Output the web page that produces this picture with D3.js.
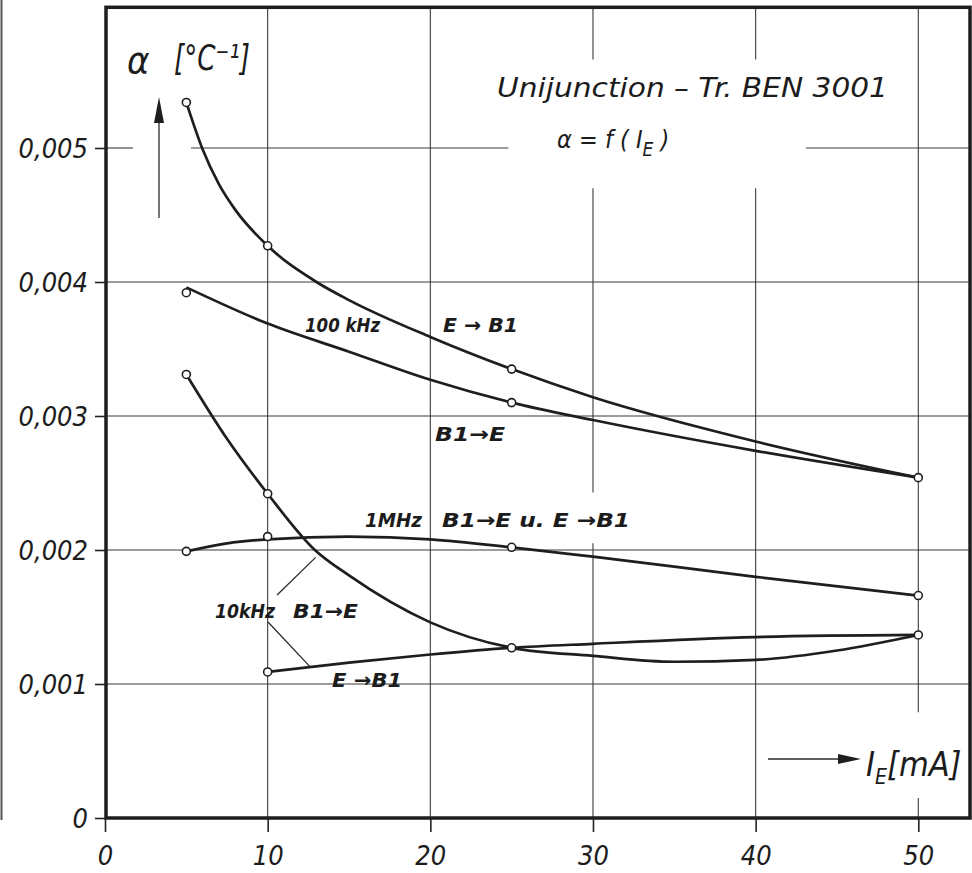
<!DOCTYPE html>
<html>
<head>
<meta charset="utf-8">
<script src="https://cdn.jsdelivr.net/npm/d3@7"></script>
<style>
  body { margin: 0; background: #fff; }
  text { font-family: "DejaVu Sans Condensed", "DejaVu Sans", sans-serif; font-style: italic; fill: #1c1c1c; }
</style>
</head>
<body>
<script>
// axis ticks
var xTicks = [0, 10, 20, 30, 40, 50];
var yTicks = [0, 0.001, 0.002, 0.003, 0.004, 0.005];

// curves  [I_E mA, alpha 1/°C]
var e2b1_100k = [[5, 0.00534], [6, 0.00499], [7, 0.00473], [8, 0.00454], [10, 0.00427], [13, 0.00400], [15, 0.003865], [20, 0.00359], [25, 0.00335], [30, 0.00314], [40, 0.00281], [50, 0.00254]];
var b1e_100k  = [[5, 0.00396], [10, 0.00369], [15, 0.00348], [20, 0.00327], [25, 0.00310], [30, 0.00297], [40, 0.00274], [50, 0.00254]];
var b1e_10k   = [[5, 0.00331], [7.5, 0.00283], [10, 0.00242], [12.9, 0.00200], [15, 0.00181], [20, 0.00146], [25, 0.00127], [30, 0.00121], [35, 0.001166], [40, 0.00118], [45, 0.00125], [50, 0.001366]];
var e2b1_10k  = [[10, 0.00109], [15, 0.00116], [20, 0.00122], [25, 0.00127], [30, 0.00130], [40, 0.00135], [50, 0.001366]];
var both_1mhz = [[5, 0.00199], [7.5, 0.00205], [10, 0.00208], [15, 0.00210], [20, 0.00208], [25, 0.00202], [30, 0.00195], [40, 0.00180], [50, 0.00166]];

// measured points (the little circles)
var pts_e2b1_100k = [[5, 0.00534], [10, 0.00427], [25, 0.00335], [50, 0.00254]];
var pts_b1e_100k  = [[5, 0.00392], [25, 0.00310]];
var pts_b1e_10k   = [[5, 0.00331], [10, 0.00242], [25, 0.00127], [50, 0.001366]];
var pts_e2b1_10k  = [[10, 0.00109]];
var pts_1mhz      = [[5, 0.00199], [10, 0.00210], [25, 0.00202], [50, 0.00166]];

var curves = [e2b1_100k, b1e_100k, b1e_10k, e2b1_10k, both_1mhz];
var points = [].concat(pts_e2b1_100k, pts_b1e_100k, pts_b1e_10k, pts_e2b1_10k, pts_1mhz);

// curve labels, anchored in data units
var labels = [
  {t: '100 kHz', x: 12.3, y: 0.003627, w: 75},
  {t: 'E \u2192 B1', x: 20.78, y: 0.003627, w: 75},
  {t: 'B1\u2192E', x: 20.29, y: 0.002813, w: 70},
  {t: '1MHz', x: 15.98, y: 0.002172, w: 57},
  {t: 'B1\u2192E  u.  E \u2192B1', x: 20.72, y: 0.002172, w: 188},
  {t: '10kHz', x: 6.76, y: 0.001493, w: 60},
  {t: 'B1\u2192E', x: 11.56, y: 0.001493, w: 65},
  {t: 'E \u2192B1', x: 13.96, y: 0.000978, w: 70}
];
var leaders = [
  [[10.58, 0.001664], [12.95, 0.001945]],
  [[10.02, 0.001463], [12.6, 0.00113]]
];

// where the grid is left open for lettering
var hGaps = {'0.005': [[1.72, 5.29], [24.8, 43.1]]};
var vGaps = {'30': [[0.00205, 0.00243], [0.0047, 0.00566]], '40': [[0.0047, 0.00566]], '50': [[0.00015, 0.00079]]};

var W = 972, H = 873;
var xMax = 53.18, yMax = 0.00605;

var svg = d3.select('body').append('svg')
  .attr('width', W).attr('height', H)
  .style('background-color', '#fff');

var x = d3.scaleLinear().domain([0, 50]).range([105, 918.3]);
var y = d3.scaleLinear().domain([0, 0.005]).range([818, 148]);

// scan edge on the far left
svg.append('line').attr('x1', 1.5).attr('x2', 1.5).attr('y1', 0).attr('y2', 820)
  .attr('stroke', '#555').attr('stroke-width', 2);

var segs = function(lo, hi, gaps) {
  var out = [], s = lo;
  (gaps || []).forEach(function(g) { out.push([s, g[0]]); s = g[1]; });
  out.push([s, hi]);
  return out;
};

var grid = svg.append('g').attr('stroke', '#3a3a3a').attr('stroke-width', 1.1);
yTicks.slice(1).forEach(function(v) {
  segs(0, xMax, hGaps[String(v)]).forEach(function(s) {
    grid.append('line').attr('x1', x(s[0])).attr('x2', x(s[1])).attr('y1', y(v)).attr('y2', y(v));
  });
});
xTicks.slice(1).forEach(function(v) {
  segs(0, yMax, vGaps[String(v)]).forEach(function(s) {
    grid.append('line').attr('x1', x(v)).attr('x2', x(v)).attr('y1', y(s[0])).attr('y2', y(s[1]));
  });
});

// axes: ticks + numbers
var fmt = function(d) { return d === 0 ? '0' : d3.format('.3f')(d).replace('.', ','); };
var xAxis = svg.append('g').attr('transform', 'translate(0,' + y(0) + ')')
  .call(d3.axisBottom(x).tickValues(xTicks).tickSizeInner(14).tickSizeOuter(0).tickPadding(14));
var yAxis = svg.append('g').attr('transform', 'translate(' + x(0) + ',0)')
  .call(d3.axisLeft(y).tickValues(yTicks).tickFormat(fmt).tickSizeInner(10).tickSizeOuter(0).tickPadding(7));
[xAxis, yAxis].forEach(function(a) {
  a.select('.domain').remove();
  a.selectAll('line').attr('stroke', '#222').attr('stroke-width', 1.6);
  a.selectAll('text').attr('font-size', 27).attr('fill', '#1c1c1c')
    .style('font-family', '"DejaVu Sans Condensed", "DejaVu Sans", sans-serif').style('font-style', 'italic');
});
xAxis.selectAll('text').attr('dy', '0.71em');
yAxis.selectAll('text').attr('dy', '0.36em');

// frame
svg.append('rect').attr('x', x(0) + 1).attr('y', y(yMax)).attr('width', x(xMax) - x(0) - 1).attr('height', y(0) - y(yMax))
  .attr('fill', 'none').attr('stroke', '#1e1e1e').attr('stroke-width', 3.5);

// curves
var line = d3.line().x(function(d) { return x(d[0]); }).y(function(d) { return y(d[1]); })
  .curve(d3.curveMonotoneX);
svg.selectAll('path.curve').data(curves).enter().append('path')
  .attr('class', 'curve').attr('d', line)
  .attr('fill', 'none').attr('stroke', '#1e1e1e').attr('stroke-width', 2.7);

svg.selectAll('circle').data(points).enter().append('circle')
  .attr('cx', function(d) { return x(d[0]); }).attr('cy', function(d) { return y(d[1]); })
  .attr('r', 4).attr('fill', '#fff').attr('stroke', '#1e1e1e').attr('stroke-width', 1.6);

// leader lines
svg.selectAll('line.leader').data(leaders).enter().append('line').attr('class', 'leader')
  .attr('x1', function(d) { return x(d[0][0]); }).attr('y1', function(d) { return y(d[0][1]); })
  .attr('x2', function(d) { return x(d[1][0]); }).attr('y2', function(d) { return y(d[1][1]); })
  .attr('stroke', '#2a2a2a').attr('stroke-width', 1.3);

svg.selectAll('text.lbl').data(labels).enter().append('text').attr('class', 'lbl')
  .attr('x', function(d) { return x(d.x); }).attr('y', function(d) { return y(d.y); })
  .attr('font-size', 20).attr('font-weight', 'bold')
  .attr('textLength', function(d) { return d.w; }).attr('lengthAdjust', 'spacingAndGlyphs')
  .text(function(d) { return d.t; });

// title
svg.append('text').attr('x', 497).attr('y', 97).attr('font-size', 27)
  .attr('textLength', 391).attr('lengthAdjust', 'spacingAndGlyphs')
  .text('Unijunction \u2013 Tr. BEN 3001');
var sub = svg.append('text').attr('x', 557).attr('y', 148).attr('font-size', 25);
sub.append('tspan').text('\u03b1 = f  ( I');
sub.append('tspan').attr('font-size', 19).attr('dy', 8).text('E');
sub.append('tspan').attr('dy', -8).text(' )');

// y axis caption with arrow
svg.append('text').attr('x', 127).attr('y', 73).attr('font-size', 38).text('\u03b1');
svg.append('text').attr('x', 174).attr('y', 70).attr('font-size', 36)
  .attr('textLength', 76).attr('lengthAdjust', 'spacingAndGlyphs').text('[\u00b0C\u207b\u00b9]');
svg.append('line').attr('x1', 159).attr('x2', 159).attr('y1', 218).attr('y2', 120)
  .attr('stroke', '#2a2a2a').attr('stroke-width', 1.3);
svg.append('path').attr('d', 'M159,97 L164,123 L154,123 Z').attr('fill', '#1e1e1e');

// x axis caption with arrow
svg.append('line').attr('x1', 768).attr('x2', 842).attr('y1', 759).attr('y2', 759)
  .attr('stroke', '#2a2a2a').attr('stroke-width', 1.3);
svg.append('path').attr('d', 'M861,759 L838,754 L838,764 Z').attr('fill', '#1e1e1e');
var xl = svg.append('text').attr('x', 866).attr('y', 776).attr('font-size', 34);
xl.append('tspan').text('I');
xl.append('tspan').attr('font-size', 21).attr('dy', 8).text('E');
xl.append('tspan').attr('dy', -8).text('[mA]');
</script>
</body>
</html>
